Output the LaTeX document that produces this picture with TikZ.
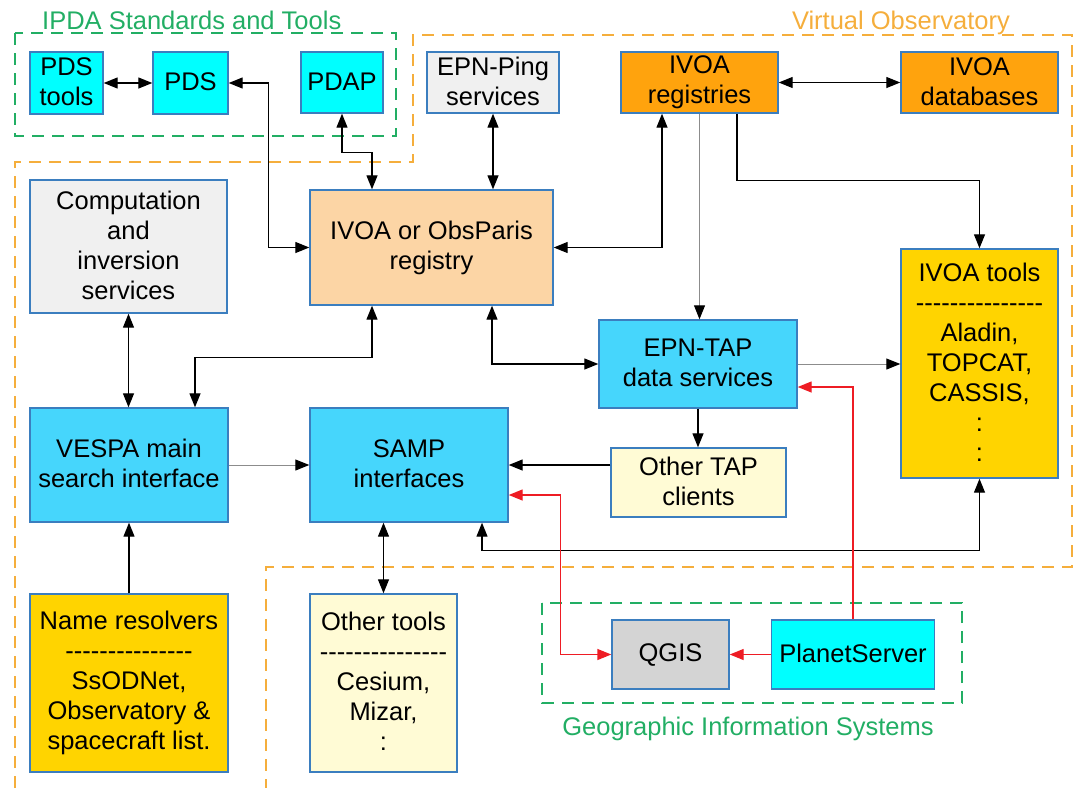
\documentclass[tikz,border=0pt]{standalone}
\usepackage{fontspec}
\setmainfont{Liberation Sans}
\usepackage{tikz}
\usetikzlibrary{arrows.meta}

\definecolor{boxline}{HTML}{3B7EBF}
\definecolor{cyanfill}{HTML}{00FFFF}
\definecolor{skyfill}{HTML}{46D6FC}
\definecolor{orangefill}{HTML}{FFA30D}
\definecolor{peachfill}{HTML}{FCD5A5}
\definecolor{greyfill}{HTML}{F0F0F0}
\definecolor{goldfill}{HTML}{FFD400}
\definecolor{creamfill}{HTML}{FFFBD5}
\definecolor{qgisfill}{HTML}{D4D4D4}
\definecolor{ipdagreen}{HTML}{22AE64}
\definecolor{vo}{HTML}{F5AE3C}
\definecolor{greyline}{HTML}{8C8C8C}
\definecolor{gisred}{HTML}{EE1C24}

\newcommand\dashrow{\foreach \k in {1,...,15}{\mbox{-}}}

\begin{document}
\begin{tikzpicture}[
        x=1pt, y=-1pt,
        >={Triangle[length=14pt,width=11pt]},
        box/.style={draw=boxline, line width=1.4pt, align=center, inner sep=2pt, font=\fontsize{25.5}{30}\selectfont,
            execute at begin node=\rule{0pt}{18pt}, execute at end node=\rule[-2.7pt]{0pt}{2.7pt}},
        sz/.style 2 args={minimum width=#1pt, minimum height=#2pt},
        CY/.style={box, fill=cyanfill},
        SK/.style={box, fill=skyfill},
        OR/.style={box, fill=orangefill},
        PE/.style={box, fill=peachfill},
        GR/.style={box, fill=greyfill},
        GO/.style={box, fill=goldfill},
        CR/.style={box, fill=creamfill},
        QG/.style={box, fill=qgisfill},
        title/.style={inner sep=0pt, font=\fontsize{25.5}{30}\selectfont},
        zone/.style={line width=1.5pt, dash pattern=on 12pt off 8pt},
        link/.style={line width=1.3pt},
        grey/.style={line width=1pt, draw=greyline, -{Triangle[length=14pt,width=11pt,color=black]}},
        gis/.style={line width=1.4pt, draw=gisred}
    ]
    \useasboundingbox (0,0) rectangle (1079,788);

    \draw[zone, draw=ipdagreen] (15,33) rectangle (396,136);
    \draw[zone, draw=vo] (15,788) -- (15,162) -- (413,162) -- (413,35) -- (1072,35) -- (1072,567) -- (266,567) -- (266,788);
    \draw[zone, draw=ipdagreen] (542,603) rectangle (962,703);

    \node[title, anchor=base west, text=ipdagreen] (ipda) at (42,29) {IPDA Standards and Tools};
    \node[title, anchor=base east, text=vo]        (votitle) at (1010,29) {Virtual Observatory};
    \node[title, anchor=base, text=ipdagreen]      (gistitle) at (748,735) {Geographic Information Systems};

    \node[CY, sz={73}{62}]   (pdst)   at (66.5,83)    {PDS\\tools};
    \node[CY, sz={75}{62}]   (pds)    at (190.5,83)   {PDS};
    \node[CY, sz={82}{61}]   (pdap)   at (342,82.5)   {PDAP};
    \node[GR, sz={132}{61}]  (ping)   at (493,82.5)   {EPN-Ping\\services};
    \node[OR, sz={157}{61}]  (reg)    at (699.5,82.5) {IVOA\\registries};
    \node[OR, sz={157}{61}]  (db)     at (979.5,82.5) {IVOA\\databases};

    \node[GR, sz={197}{133}] (comp)   at (128.5,246.5) {Computation\\and\\inversion\\services};
    \node[PE, sz={243}{115}] (obsreg) at (431.5,247.5) {IVOA or ObsParis\\registry};
    \node[SK, sz={198}{88}]  (tap)    at (698,364)     {EPN-TAP\\data services};
    \node[GO, sz={157}{229}] (tools)  at (979.5,363.5) {IVOA tools\\\dashrow\\Aladin,\\TOPCAT,\\CASSIS,\\:\\:};

    \node[SK, sz={198}{114}] (vespa)  at (129,465)     {VESPA main\\search interface};
    \node[SK, sz={198}{114}] (samp)   at (409,465)     {SAMP\\interfaces};
    \node[CR, sz={175}{69}]  (otap)   at (698.5,482.5) {Other TAP\\clients};

    \node[GO, sz={198}{178}] (names)  at (129,683)     {Name resolvers\\\dashrow\\SsODNet,\\Observatory \&\\spacecraft list.};
    \node[CR, sz={147}{178}] (otools) at (383.5,683)   {Other tools\\\dashrow\\Cesium,\\Mizar,\\:};
    \node[QG, sz={117}{69}]  (qgis)   at (670.5,654.5) {QGIS};
    \node[CY, sz={163}{69}]  (ps)     at (853,654.5)   {PlanetServer};

    \draw[link,<->] (pdst) -- (pds);
    \draw[link,<->] (pds.east) -- ++(40,0) |- (obsreg.west);
    \draw[link,<->] (pdap.south) |- ++(30,39) -- ([xshift=-59.5pt]obsreg.north);
    \draw[link,<->] (ping.south) -- (ping.south |- obsreg.north);
    \draw[link,<->] ([xshift=-37.5pt]reg.south) |- (obsreg.east);
    \draw[grey]     (reg.south) -- (reg.south |- tap.north);
    \draw[link,->]  ([xshift=37.5pt]reg.south) -- ++(0,67) -| (tools.north);
    \draw[link,<->] (reg) -- (db);
    \draw[link,<->] (comp.south) -- (comp.south |- vespa.north);
    \draw[link,<->] ([xshift=-59.5pt]obsreg.south) -- ++(0,52) -| ([xshift=66pt]vespa.north);
    \draw[link,<->] ([xshift=60.5pt]obsreg.south) |- (tap.west);
    \draw[grey]     (tap.east) -- (tap.east -| tools.west);
    \draw[link,->]  (tap.south) -- (tap.south |- otap.north);
    \draw[link,->]  (otap.west |- samp.east) -- (samp.east);
    \draw[grey]     (vespa) -- (samp);
    \draw[link,->]  (names) -- (vespa);
    \draw[link,<->] (otools.north |- samp.south) -- (otools.north);
    \draw[link,<->] ([xshift=73pt]samp.south) -- ++(0,28) -| (tools.south);
    \draw[gis,<->]  ([yshift=-30pt]samp.east) -- ++(52,0) |- (qgis.west);
    \draw[gis,->]   (ps) -- (qgis);
    \draw[gis,->]   (ps.north) |- ([yshift=-23pt]tap.east);
\end{tikzpicture}
\end{document}
